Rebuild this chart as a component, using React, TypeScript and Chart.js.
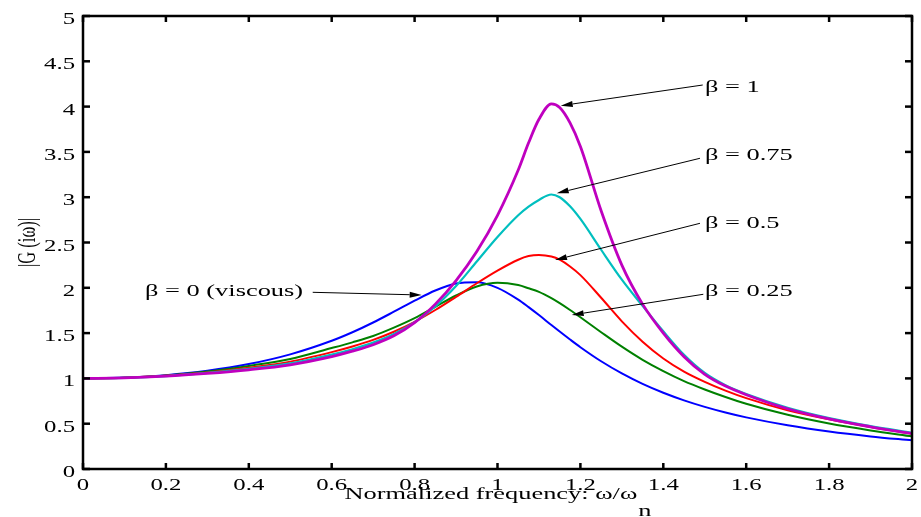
import React, { useEffect, useRef } from 'react';
import { Chart, registerables } from 'chart.js';

Chart.register(...registerables);

// ---- data ----
const freq = [0, 0.1, 0.2, 0.3, 0.4, 0.5, 0.6, 0.65, 0.7, 0.75, 0.8, 0.85, 0.9, 0.95, 1.0, 1.05, 1.075, 1.1, 1.13, 1.15, 1.175, 1.2, 1.25, 1.3, 1.35, 1.4, 1.45, 1.5, 1.55, 1.6, 1.7, 1.8, 1.9, 2.0];

const gainBeta0 = [1.0, 1.009, 1.036, 1.084, 1.158, 1.265, 1.415, 1.509, 1.617, 1.736, 1.858, 1.970, 2.047, 2.062, 2.0, 1.870, 1.787, 1.699, 1.589, 1.517, 1.429, 1.344, 1.189, 1.055, 0.940, 0.842, 0.758, 0.686, 0.624, 0.570, 0.483, 0.414, 0.360, 0.316];
const gainBeta025 = [1.0, 1.008, 1.032, 1.075, 1.138, 1.215, 1.335, 1.398, 1.468, 1.560, 1.665, 1.790, 1.915, 2.015, 2.056, 2.030, 1.995, 1.955, 1.885, 1.830, 1.755, 1.675, 1.510, 1.350, 1.205, 1.080, 0.970, 0.878, 0.795, 0.720, 0.598, 0.502, 0.426, 0.360];
const gainBeta05 = [1.0, 1.007, 1.028, 1.065, 1.118, 1.185, 1.290, 1.352, 1.425, 1.515, 1.625, 1.755, 1.900, 2.050, 2.190, 2.310, 2.350, 2.362, 2.345, 2.310, 2.235, 2.140, 1.890, 1.630, 1.405, 1.220, 1.075, 0.962, 0.865, 0.782, 0.648, 0.548, 0.463, 0.390];
const gainBeta075 = [1.0, 1.006, 1.026, 1.060, 1.105, 1.165, 1.262, 1.322, 1.395, 1.490, 1.620, 1.795, 2.020, 2.290, 2.560, 2.800, 2.895, 2.970, 3.030, 3.000, 2.900, 2.760, 2.420, 2.090, 1.800, 1.520, 1.260, 1.060, 0.925, 0.828, 0.676, 0.562, 0.473, 0.400];
const gainBeta1 = [1.0, 1.005, 1.024, 1.055, 1.095, 1.150, 1.240, 1.300, 1.372, 1.470, 1.615, 1.820, 2.080, 2.400, 2.800, 3.300, 3.600, 3.860, 4.030, 3.990, 3.820, 3.560, 2.850, 2.250, 1.820, 1.500, 1.240, 1.045, 0.915, 0.820, 0.665, 0.553, 0.466, 0.390];

const seriesNames = ['β = 1', 'β = 0.75', 'β = 0.5', 'β = 0.25', 'β = 0 (viscous)'];
const seriesValues = [gainBeta1, gainBeta075, gainBeta05, gainBeta025, gainBeta0];
const seriesColors = ['#bf00bf', '#00bfbf', '#ff0000', '#008000', '#0000ff'];
const seriesWidths = [2.8, 2.2, 2, 2, 2];

const xTickValues = [0, 0.2, 0.4, 0.6, 0.8, 1, 1.2, 1.4, 1.6, 1.8, 2];
const xTickLabels = ['0', '0.2', '0.4', '0.6', '0.8', '1', '1.2', '1.4', '1.6', '1.8', '2'];
const yTickValues = [0, 0.5, 1, 1.5, 2, 2.5, 3, 3.5, 4, 4.5, 5];
const yTickLabels = ['0', '0.5', '1', '1.5', '2', '2.5', '3', '3.5', '4', '4.5', '5'];

const xTitle = 'Normalized frequency: ω/ω';
const xTitleSub = 'n';
const yTitle = '|G (iω)|';

// annotation anchors in data coordinates (text baseline-left, arrow start, arrow tip)
const annoText = ['β = 1', 'β = 0.75', 'β = 0.5', 'β = 0.25', 'β = 0 (viscous)'];
const annoTextX = [1.5006, 1.5006, 1.5006, 1.5006, 0.1496];
const annoTextY = [4.164, 3.411, 2.657, 1.913, 1.909];
const arrowFromX = [1.4951, 1.4885, 1.4885, 1.4965, 0.5542];
const arrowFromY = [4.2384, 3.4294, 2.7119, 1.9283, 1.9503];
const arrowToX = [1.1525, 1.1428, 1.1387, 1.1790, 0.8171];
const arrowToY = [4.0099, 3.0430, 2.3068, 1.6998, 1.9205];

// ---- styling ----
const FONT_FAMILY = '"Liberation Serif", "Times New Roman", Times, serif';
const FONT_SIZE = 16.5;
const TICK_STRETCH = 1.5;
const TEXT_STRETCH = 1.6;

function drawText(ctx: CanvasRenderingContext2D, s: string, x: number, y: number, align: CanvasTextAlign, sx: number) {
  ctx.save();
  ctx.translate(x, y);
  ctx.scale(sx, 1);
  ctx.textAlign = align;
  ctx.textBaseline = 'alphabetic';
  ctx.fillText(s, 0, 0);
  ctx.restore();
}

function seg(ctx: CanvasRenderingContext2D, x1: number, y1: number, x2: number, y2: number) {
  ctx.beginPath();
  ctx.moveTo(x1, y1);
  ctx.lineTo(x2, y2);
  ctx.stroke();
}

const overlayPlugin = {
  id: 'matlabOverlay',
  afterDraw(chart: any) {
    const ctx: CanvasRenderingContext2D = chart.ctx;
    const a = chart.chartArea;
    const xs = chart.scales.x;
    const ys = chart.scales.y;
    ctx.save();
    ctx.font = `${FONT_SIZE}px ${FONT_FAMILY}`;
    ctx.fillStyle = '#000';
    ctx.strokeStyle = '#000';

    // annotations
    ctx.lineWidth = 1;
    for (let i = 0; i < annoText.length; i++) {
      const tx = xs.getPixelForValue(annoTextX[i]);
      const ty = ys.getPixelForValue(annoTextY[i]);
      drawText(ctx, annoText[i], tx, ty, 'left', TEXT_STRETCH);
      const x1 = xs.getPixelForValue(arrowFromX[i]);
      const y1 = ys.getPixelForValue(arrowFromY[i]);
      const x2 = xs.getPixelForValue(arrowToX[i]);
      const y2 = ys.getPixelForValue(arrowToY[i]);
      const ang = Math.atan2(y2 - y1, x2 - x1);
      const L = 12, W = 3;
      const bx = x2 - L * Math.cos(ang);
      const by = y2 - L * Math.sin(ang);
      seg(ctx, x1, y1, bx, by);
      ctx.beginPath();
      ctx.moveTo(x2, y2);
      ctx.lineTo(bx + W * Math.sin(ang), by - W * Math.cos(ang));
      ctx.lineTo(bx - W * Math.sin(ang), by + W * Math.cos(ang));
      ctx.closePath();
      ctx.fill();
    }

    // frame
    ctx.lineWidth = 2.5;
    ctx.strokeRect(a.left, a.top, a.right - a.left, a.bottom - a.top);
    // inward ticks
    xTickValues.forEach((v) => {
      const px = xs.getPixelForValue(v);
      seg(ctx, px, a.bottom, px, a.bottom - 6);
      seg(ctx, px, a.top, px, a.top + 6);
    });
    yTickValues.forEach((v) => {
      const py = ys.getPixelForValue(v);
      seg(ctx, a.left, py, a.left + 7, py);
      seg(ctx, a.right, py, a.right - 7, py);
    });

    // tick labels
    xTickValues.forEach((v, i) => {
      drawText(ctx, xTickLabels[i], xs.getPixelForValue(v), a.bottom + 21, 'center', TICK_STRETCH);
    });
    yTickValues.forEach((v, i) => {
      drawText(ctx, yTickLabels[i], a.left - 8, ys.getPixelForValue(v) + 8, 'right', TICK_STRETCH);
    });

    // x title with subscript
    const wMain = ctx.measureText(xTitle).width * TEXT_STRETCH;
    const wSub = ctx.measureText(xTitleSub).width * TEXT_STRETCH;
    const cx = (a.left + a.right) / 2;
    const startX = cx - (wMain + wSub) / 2;
    drawText(ctx, xTitle, startX, a.bottom + 30, 'left', TEXT_STRETCH);
    drawText(ctx, xTitleSub, startX + wMain + 1, a.bottom + 47, 'left', TEXT_STRETCH);

    // y title, rotated
    ctx.save();
    ctx.translate(29, (a.top + a.bottom) / 2);
    ctx.rotate(-Math.PI / 2);
    ctx.scale(1, TICK_STRETCH);
    ctx.textAlign = 'center';
    ctx.textBaseline = 'middle';
    ctx.fillText(yTitle, 0, 0);
    ctx.restore();

    ctx.restore();
  },
};

export default function App() {
  const canvasRef = useRef<HTMLCanvasElement | null>(null);

  useEffect(() => {
    const canvas = canvasRef.current;
    if (!canvas) return;
    const chart = new Chart(canvas, {
      type: 'line',
      data: {
        datasets: seriesValues.map((vals, k) => ({
          label: seriesNames[k],
          data: freq.map((f, i) => ({ x: f, y: vals[i] })),
          borderColor: seriesColors[k],
          backgroundColor: seriesColors[k],
          borderWidth: seriesWidths[k],
          pointRadius: 0,
          fill: false,
          cubicInterpolationMode: 'monotone' as const,
        })),
      },
      options: {
        animation: false,
        responsive: false,
        devicePixelRatio: 1,
        events: [],
        layout: { padding: { left: 83, right: 9, top: 16, bottom: 48 } },
        plugins: { legend: { display: false }, tooltip: { enabled: false } },
        scales: {
          x: { type: 'linear', min: 0, max: 2, display: false },
          y: { type: 'linear', min: 0, max: 5, display: false },
        },
      },
      plugins: [overlayPlugin],
    });
    return () => chart.destroy();
  }, []);

  return (
    <div style={{ position: 'absolute', left: 0, top: 0, width: 921, height: 517, background: '#fff' }}>
      <canvas ref={canvasRef} width={921} height={517} style={{ display: 'block' }} />
    </div>
  );
}
